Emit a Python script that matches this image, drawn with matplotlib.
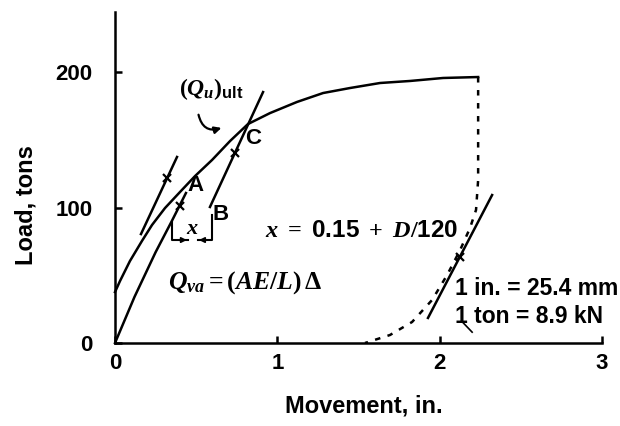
import matplotlib
matplotlib.use("Agg")
import matplotlib.pyplot as plt
from matplotlib import font_manager

# pick the first installed family from a list
def pick_font(names):
    have = {f.name for f in font_manager.fontManager.ttflist}
    for n in names:
        if n in have:
            return n
    return "DejaVu Sans"

SANS = pick_font(["Liberation Sans", "Arial", "DejaVu Sans"])
SERIF = pick_font(["Liberation Serif", "DejaVu Serif"])

plt.rcParams["font.family"] = [SANS, "DejaVu Sans"]
plt.rcParams["font.weight"] = "bold"
plt.rcParams["axes.labelweight"] = "bold"
plt.rcParams["mathtext.fontset"] = "custom"
plt.rcParams["mathtext.it"] = SERIF + ":italic:bold"
plt.rcParams["mathtext.rm"] = SERIF + ":bold"
plt.rcParams["mathtext.bf"] = SERIF + ":bold"
plt.rcParams["mathtext.sf"] = SANS + ":bold"

####################################
# data (movement in inches, load in tons)

# load-movement curve
load_x = [0, 0.031, 0.092, 0.166, 0.228, 0.308, 0.400, 0.493, 0.598, 0.709, 0.819,
          0.955, 1.121, 1.282, 1.448, 1.633, 1.818, 2.021, 2.237]
load_y = [37.6, 45.8, 60.5, 75.3, 87.1, 99.6, 111.4, 123.2, 135.1, 149.1, 161.6,
          169.7, 177.9, 184.5, 188.2, 191.9, 193.4, 195.6, 196.3]

# elastic line from origin, Q_va = (AE/L) delta
elastic_x = [0, 0.12, 0.25, 0.35, 0.437]
elastic_y = [0, 34.0, 67.0, 90.0, 110.7]

# short tangent segment on the upper curve
tangent_x = [0.160, 0.382]
tangent_y = [80.4, 137.3]

# offset line B -> C
offset_x = [0.585, 0.912]
offset_y = [100.4, 185.2]

# unloading (dashed)
unload_x = [2.237, 2.237, 2.237, 2.224, 2.187, 2.126, 2.046, 1.953, 1.830, 1.694, 1.540]
unload_y = [196.3, 157.2, 120.3, 98.2, 84.9, 68.6, 50.2, 31.7, 15.5, 5.9, 0]

# reloading line
reload_x = [1.928, 2.323]
reload_y = [18.5, 109.2]

# hash marks on the lines
mark_x = [0.400, 0.320, 0.739, 2.126]
mark_y = [101.1, 121.8, 140.2, 63.5]

x_ticks = [0, 1, 2, 3]
y_ticks = [0, 100, 200]

####################################

fig = plt.figure(figsize=(6.2, 4.26), dpi=100)
ax = fig.add_axes([115 / 620, 83 / 426, 487 / 620, 331 / 426])

lw = 1.8
ax.plot(load_x, load_y, color="black", lw=lw, clip_on=False, solid_joinstyle="round")
ax.plot(elastic_x, elastic_y, color="black", lw=lw, clip_on=False, solid_joinstyle="round")
ax.plot(tangent_x, tangent_y, color="black", lw=lw)
ax.plot(offset_x, offset_y, color="black", lw=lw)
ax.plot(unload_x, unload_y, color="black", lw=lw, ls=(0, (2.2, 3.0)))
ax.plot(reload_x, reload_y, color="black", lw=lw)
ax.plot(mark_x, mark_y, ls="none", marker="x", ms=6, mew=1.6, color="black")

# the "x" offset bracket
ax.plot([0.351, 0.351, 0.45], [89.3, 76.0, 76.0], color="black", lw=1.5)
ax.plot([0.51, 0.598, 0.598], [76.0, 76.0, 94.5], color="black", lw=1.5)
ax.annotate("", xy=(0.46, 76.0), xytext=(0.40, 76.0),
            arrowprops=dict(arrowstyle="-|>", color="black", lw=1.2, mutation_scale=8))
ax.annotate("", xy=(0.50, 76.0), xytext=(0.56, 76.0),
            arrowprops=dict(arrowstyle="-|>", color="black", lw=1.2, mutation_scale=8))
ax.text(0.474, 84.5, r"$x$", fontsize=16, ha="center", va="center")

# labels on the chart
ax.text(0.850, 151.3, "C", fontsize=16, ha="center", va="center")
ax.text(0.493, 116.6, "A", fontsize=16, ha="center", va="center")
ax.text(0.653, 95.2, "B", fontsize=16, ha="center", va="center")
ax.text(0.591, 187.5, r"$(Q_{u})_{\mathsf{ult}}$", fontsize=17, ha="center", va="center")
ax.annotate("", xy=(0.672, 159.4), xytext=(0.511, 170.5),
            arrowprops=dict(arrowstyle="-|>", color="black", lw=1.6,
                            connectionstyle="arc3,rad=0.6", mutation_scale=10))
ax.text(0.924, 83.4, r"$x\ =\ \mathsf{0.15}\ +\ D/\mathsf{120}$", fontsize=17.5, va="center")
ax.text(0.327, 44.3, r"$Q_{va} = (AE/L)\,\Delta$", fontsize=18.5, va="center")
ax.text(2.095, 39.9, "1 in. = 25.4 mm", fontsize=16.5, va="center")
ax.text(2.095, 19.2, "1 ton = 8.9 kN", fontsize=16.5, va="center")
ax.plot([2.14, 2.20], [15.5, 8.0], color="black", lw=1.2)

ax.set_xlim(0, 3)
ax.set_ylim(0, 244.3)
ax.set_xticks(x_ticks)
ax.set_yticks(y_ticks)
ax.tick_params(direction="in", length=5, width=1.8, labelsize=16)
ax.tick_params(axis="y", pad=16)
ax.tick_params(axis="x", pad=7)
for s in ["top", "right"]:
    ax.spines[s].set_visible(False)
for s in ["left", "bottom"]:
    ax.spines[s].set_linewidth(1.8)

ax.set_xlabel("Movement, in.", fontsize=17)
ax.set_ylabel("Load, tons", fontsize=17)
ax.xaxis.set_label_coords(0.511, -0.157)
ax.yaxis.set_label_coords(-0.160, 0.417)

fig.savefig("out.png", dpi=100)
